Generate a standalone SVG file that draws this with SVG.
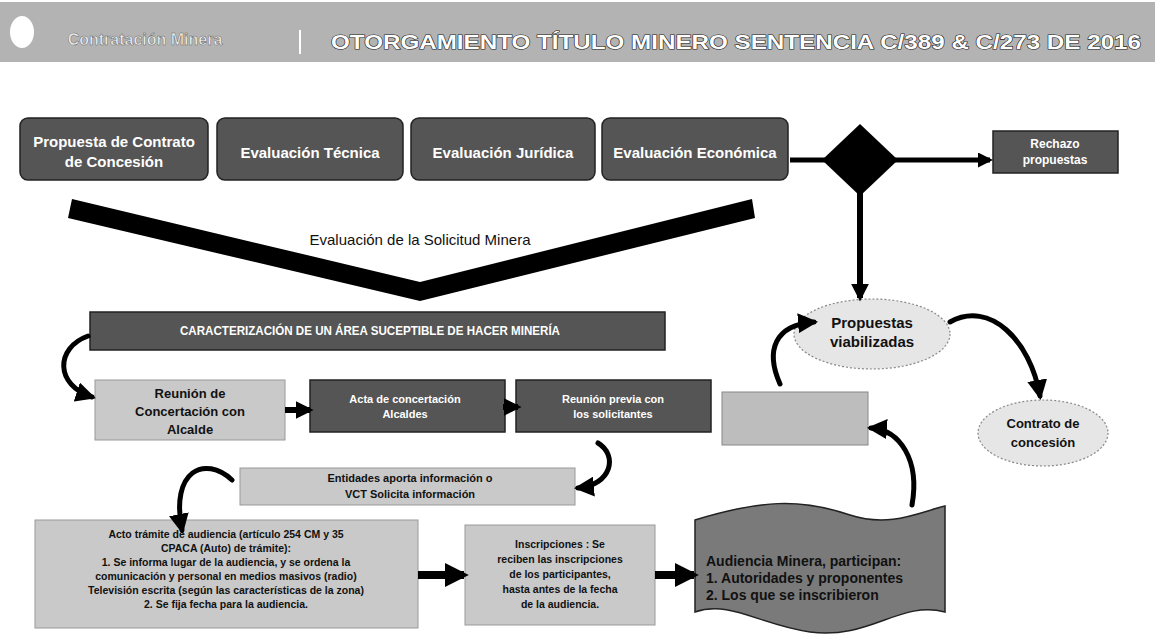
<svg xmlns="http://www.w3.org/2000/svg" width="1155" height="637" viewBox="0 0 1155 637">
<defs>
<style>
.dark{fill:#555;stroke:#222;stroke-width:1.5}
.light{fill:#c9c9c9;stroke:#999;stroke-width:1}
.ell{fill:#e6e6e6;stroke:#888;stroke-width:1.2;stroke-dasharray:2 2}
.wt{font-family:"Liberation Sans",Arial,sans-serif;fill:#fff;font-weight:bold;text-anchor:middle}
.bt{font-family:"Liberation Sans",Arial,sans-serif;fill:#111;font-weight:bold;text-anchor:middle}
.ln{stroke:#000;fill:none}
.cv{stroke:#000;fill:none;stroke-width:5;stroke-linecap:round}
</style>
<marker id="ah" viewBox="0 0 10 10" refX="8" refY="5" markerWidth="4" markerHeight="4" orient="auto" markerUnits="strokeWidth">
<path d="M0,0 L10,5 L0,10 z" fill="#000"/>
</marker>
<marker id="ah2" viewBox="0 0 10 10" refX="8" refY="5" markerWidth="3" markerHeight="3" orient="auto" markerUnits="strokeWidth">
<path d="M0,0 L10,5 L0,10 z" fill="#000"/>
</marker>
</defs>
<rect width="1155" height="637" fill="#fff"/>

<g id="header">
<rect x="0" y="2" width="1155" height="60" fill="#b3b3b3"/>
<ellipse cx="22" cy="32" rx="12" ry="16" fill="#fff"/>
<text x="145" y="45" font-family="Liberation Sans,Arial,sans-serif" font-size="16" font-weight="bold" fill="#eee" text-anchor="middle" stroke="#666" stroke-width="0.5">Contratación Minera</text>
<line x1="300" y1="30" x2="300" y2="54" stroke="#fff" stroke-width="2"/>
<text x="736" y="49" font-family="Liberation Sans,Arial,sans-serif" font-size="21" font-weight="bold" fill="#fff" stroke="#222" stroke-width="1.2" paint-order="stroke" text-anchor="middle" textLength="810" lengthAdjust="spacingAndGlyphs">OTORGAMIENTO TÍTULO MINERO SENTENCIA C/389 &amp; C/273 DE 2016</text>
</g>

<g id="n-propuesta">
<rect class="dark" x="20" y="118" width="188" height="62" rx="8"/>
<text class="wt" x="114" y="147" font-size="15">Propuesta de Contrato</text>
<text class="wt" x="114" y="167" font-size="15">de Concesión</text>
</g>
<g id="n-tecnica">
<rect class="dark" x="217" y="118" width="186" height="62" rx="8"/>
<text class="wt" x="310" y="158" font-size="15">Evaluación Técnica</text>
</g>
<g id="n-juridica">
<rect class="dark" x="411" y="118" width="184" height="62" rx="8"/>
<text class="wt" x="503" y="158" font-size="15">Evaluación Jurídica</text>
</g>
<g id="n-economica">
<rect class="dark" x="602" y="118" width="186" height="62" rx="8"/>
<text class="wt" x="695" y="158" font-size="15">Evaluación Económica</text>
</g>

<g id="n-evaluacion">
<polygon points="72,199 420,282 752,199 755,218 420,301 68,218" fill="#000"/>
<text x="420" y="245" font-family="Liberation Sans,Arial,sans-serif" font-size="15" fill="#111" text-anchor="middle">Evaluación de la Solicitud Minera</text>
</g>

<g id="n-diamante">
<polygon points="860,124 898,160 860,196 822,160" fill="#000"/>
</g>
<g id="n-rechazo">
<rect class="dark" x="993" y="131" width="125" height="42"/>
<text class="wt" x="1055" y="148" font-size="12">Rechazo</text>
<text class="wt" x="1055" y="164" font-size="12">propuestas</text>
</g>
<g id="n-viabilizadas">
<ellipse class="ell" cx="872" cy="334" rx="78" ry="35"/>
<text class="bt" x="872" y="328" font-size="15">Propuestas</text>
<text class="bt" x="872" y="347" font-size="15">viabilizadas</text>
</g>
<g id="n-contrato">
<ellipse class="ell" cx="1043" cy="433" rx="65" ry="33"/>
<text class="bt" x="1043" y="428" font-size="13">Contrato de</text>
<text class="bt" x="1043" y="447" font-size="13">concesión</text>
</g>
<g id="n-vacio">
<rect x="722" y="392" width="146" height="53" fill="#bdbdbd" stroke="#888"/>
</g>

<g id="n-caracterizacion">
<rect class="dark" x="90" y="312" width="575" height="38"/>
<text class="wt" x="370" y="335" font-size="12" textLength="380" lengthAdjust="spacingAndGlyphs">CARACTERIZACIÓN DE UN ÁREA SUCEPTIBLE DE HACER MINERÍA</text>
</g>
<g id="n-reunion">
<rect class="light" x="95" y="380" width="190" height="60"/>
<text class="bt" x="190" y="398" font-size="13">Reunión de</text>
<text class="bt" x="190" y="416" font-size="13">Concertación con</text>
<text class="bt" x="190" y="434" font-size="13">Alcalde</text>
</g>
<g id="n-acta">
<rect class="dark" x="310" y="380" width="195" height="52"/>
<text class="wt" x="405" y="403" font-size="11">Acta de concertación</text>
<text class="wt" x="405" y="418" font-size="11">Alcaldes</text>
</g>
<g id="n-previa">
<rect class="dark" x="516" y="380" width="195" height="52"/>
<text class="wt" x="613" y="403" font-size="11">Reunión previa con</text>
<text class="wt" x="613" y="418" font-size="11">los solicitantes</text>
</g>
<g id="n-entidades">
<rect class="light" x="240" y="468" width="335" height="37"/>
<text class="bt" x="410" y="482" font-size="11">Entidades aporta información  o</text>
<text class="bt" x="410" y="498" font-size="11">VCT Solicita información</text>
</g>
<g id="n-acto">
<rect class="light" x="35" y="520" width="383" height="108"/>
<g font-size="10.5">
<text class="bt" x="226" y="538">Acto trámite de audiencia (artículo 254 CM y 35</text>
<text class="bt" x="226" y="552">CPACA (Auto) de trámite):</text>
<text class="bt" x="226" y="566">1. Se informa lugar de la audiencia, y se ordena la</text>
<text class="bt" x="226" y="580">comunicación y personal en medios masivos (radio)</text>
<text class="bt" x="226" y="594">Televisión escrita (según las características de la zona)</text>
<text class="bt" x="226" y="608">2. Se fija fecha  para la audiencia.</text>
</g>
</g>
<g id="n-inscripciones">
<rect class="light" x="465" y="525" width="190" height="100"/>
<g font-size="10.5">
<text class="bt" x="560" y="548">Inscripciones : Se</text>
<text class="bt" x="560" y="563">reciben las inscripciones</text>
<text class="bt" x="560" y="578">de los participantes,</text>
<text class="bt" x="560" y="593">hasta antes de la fecha</text>
<text class="bt" x="560" y="608">de la audiencia.</text>
</g>
</g>
<g id="n-audiencia">
<path d="M695,520 C760,500 800,498 850,515 C890,528 920,512 945,506 L945,612 C900,600 870,640 810,632 C760,625 730,600 695,612 Z" fill="#7a7a7a" stroke="#222" stroke-width="1.5"/>
<g font-size="14" style="text-anchor:start">
<text class="bt" x="706" y="566" style="text-anchor:start">Audiencia Minera, participan:</text>
<text class="bt" x="706" y="583" style="text-anchor:start">1. Autoridades y proponentes</text>
<text class="bt" x="706" y="600" style="text-anchor:start">2. Los que se inscribieron</text>
</g>
</g>

<g id="connectors">
<line class="ln" x1="790" y1="160" x2="990" y2="160" stroke-width="5" marker-end="url(#ah2)"/>
<line class="ln" x1="860" y1="190" x2="860" y2="298" stroke-width="6" marker-end="url(#ah2)"/>
<path class="cv" d="M950,322 C990,300 1030,340 1040,396" marker-end="url(#ah)"/>
<path class="cv" d="M780,384 C765,350 775,325 814,322" marker-end="url(#ah)"/>
<path class="cv" d="M912,505 C920,460 900,430 871,428" marker-end="url(#ah)"/>
<path class="cv" d="M88,336 C55,348 55,385 92,397" marker-end="url(#ah)"/>
<line class="ln" x1="285" y1="410" x2="310" y2="410" stroke-width="6" marker-end="url(#ah2)"/>
<line class="ln" x1="503" y1="407" x2="518" y2="407" stroke-width="6" marker-end="url(#ah2)"/>
<path class="cv" d="M598,443 C618,455 612,485 578,488" marker-end="url(#ah)"/>
<path class="cv" d="M232,480 C205,455 170,470 182,530" marker-end="url(#ah)"/>
<line class="ln" x1="418" y1="575" x2="464" y2="575" stroke-width="8" marker-end="url(#ah2)"/>
<line class="ln" x1="655" y1="575" x2="694" y2="575" stroke-width="8" marker-end="url(#ah2)"/>
</g>
</svg>
